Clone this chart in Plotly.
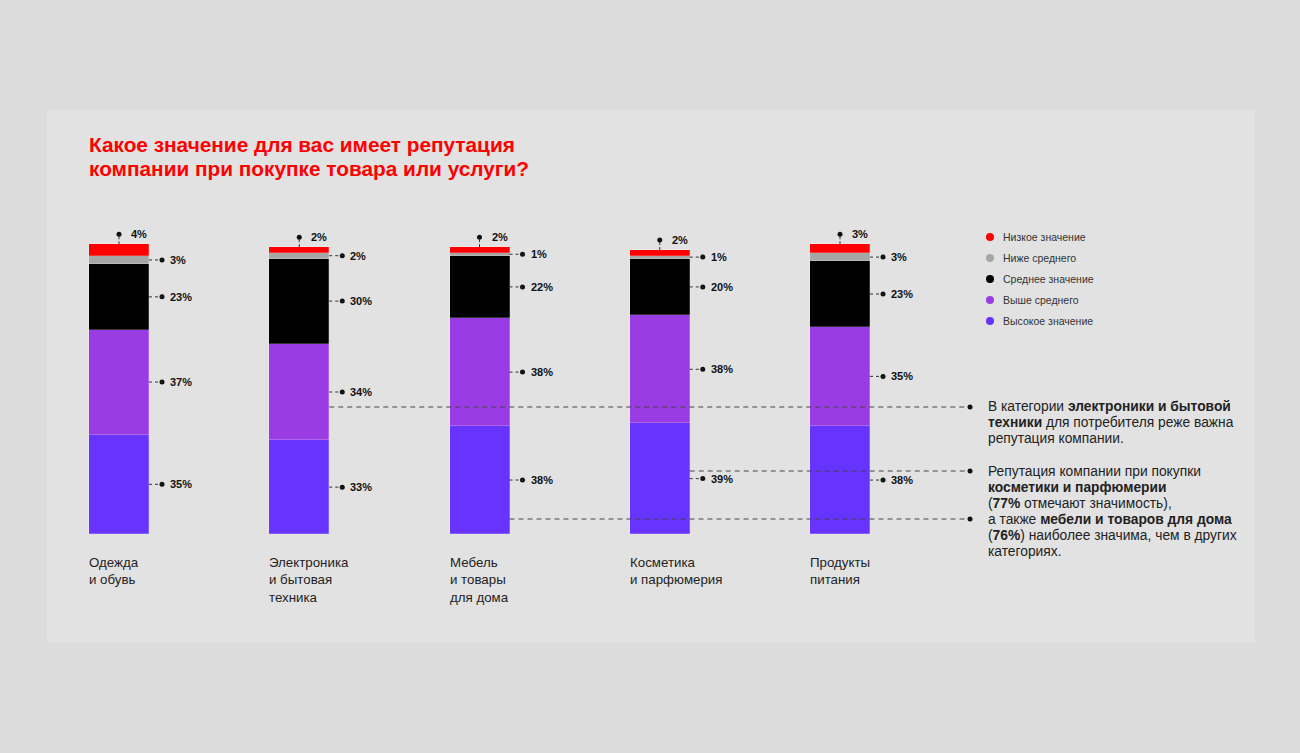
import plotly.graph_objects as go

# ---------------- data ----------------
categories = ["Одежда<br>и обувь", "Электроника<br>и бытовая<br>техника",
              "Мебель<br>и товары<br>для дома", "Косметика<br>и парфюмерия",
              "Продукты<br>питания"]
series_names = ["Высокое значение", "Выше среднего", "Среднее значение",
                "Ниже среднего", "Низкое значение"]
high = [35, 33, 38, 39, 38]
above_avg = [37, 34, 38, 38, 35]
average = [23, 30, 22, 20, 23]
below_avg = [3, 2, 1, 1, 3]
low = [4, 2, 2, 2, 3]
series_values = [high, above_avg, average, below_avg, low]
colors = ["#6633ff", "#9a3ce4", "#000000", "#a6a6a6", "#ff0000"]

title_lines = ["Какое значение для вас имеет репутация",
               "компании при покупке товара или услуги?"]
note1_lines = ["В категории <b>электроники и бытовой</b>",
               "<b>техники</b> для потребителя реже важна",
               "репутация компании."]
note2_lines = ["Репутация компании при покупки",
               "<b>косметики и парфюмерии</b>",
               "(<b>77%</b> отмечают значимость),",
               "а также <b>мебели и товаров для дома</b>",
               "(<b>76%</b>) наиболее значима, чем в других",
               "категориях."]

# ---------------- geometry helpers (layout only) ----------------
W, H = 1300, 753
X0, DX = 119, 180.25     # pixel of first bar centre, spacing
Y0, DY = 534, 2.84       # pixel of zero, pixels per percent
def px(p):
    return (p - X0) / DX
def py(p):
    return (Y0 - p) / DY

BAR_W = 60 / DX
xs = list(range(len(categories)))

fig = go.Figure()
for name, vals, col in zip(series_names, series_values, colors):
    fig.add_trace(go.Bar(x=xs, y=vals, name=name, width=BAR_W,
                         marker=dict(color=col, line=dict(color="rgba(255,255,255,0.35)", width=0.6)),
                         showlegend=False, hoverinfo="skip"))

shapes = []
annots = []
dot_x, dot_y = [], []

# background panel
shapes.append(dict(type="rect", xref="paper", yref="paper", x0=47 / W, x1=1255 / W,
                   y0=1 - 643 / H, y1=1 - 110 / H, fillcolor="#e2e2e2",
                   line=dict(width=0), layer="below"))

half = BAR_W / 2
for i in xs:
    cum = 0
    for k, vals in enumerate(series_values):
        v = vals[i]
        mid = cum + v / 2
        cum += v
        if k < 4:
            xd = i + (162 - 119) / DX
            shapes.append(dict(type="line", x0=i + half, x1=xd, y0=mid, y1=mid,
                               line=dict(color="#333333", width=1, dash="3px,3px")))
            dot_x.append(xd); dot_y.append(mid)
            annots.append(dict(x=i + (168 - 119) / DX, y=mid, text=f"<b>{v}%</b>",
                               xanchor="left", yanchor="middle", showarrow=False,
                               font=dict(size=11, color="#111111")))
        else:
            top = cum
            yd = top + 10 / DY
            shapes.append(dict(type="line", x0=i, x1=i, y0=top, y1=yd,
                               line=dict(color="#333333", width=1, dash="3px,2px")))
            dot_x.append(i); dot_y.append(yd)
            annots.append(dict(x=i + (129 - 119) / DX, y=yd, text=f"<b>{v}%</b>",
                               xanchor="left", yanchor="middle", showarrow=False,
                               font=dict(size=11, color="#111111")))
    # category label
    annots.append(dict(x=i - half - 2 / DX, y=py(553), text=categories[i], align="left",
                       xanchor="left", yanchor="top", showarrow=False,
                       font=dict(size=13.3, color="#222222")))

# callout lines to the right notes
callouts = [(1, 407), (3, 471), (2, 519)]
for bi, ypix in callouts:
    yv = py(ypix)
    shapes.append(dict(type="line", x0=bi + half, x1=px(966), y0=yv, y1=yv,
                       line=dict(color="#444444", width=1, dash="5px,4px")))
    dot_x.append(px(970)); dot_y.append(yv)

fig.add_trace(go.Scatter(x=dot_x, y=dot_y, mode="markers",
                         marker=dict(size=5, color="#111111"),
                         showlegend=False, hoverinfo="skip"))

for block, y_first in ((note1_lines, 406.5), (note2_lines, 471.5)):
    for j, line in enumerate(block):
        annots.append(dict(xref="paper", yref="paper", x=986 / W, y=1 - (y_first + 16 * j) / H,
                           text=line, xanchor="left", yanchor="middle", showarrow=False,
                           font=dict(size=13.8, color="#222222")))

# legend (custom)
leg_order = [4, 3, 2, 1, 0]
for j, k in enumerate(leg_order):
    yp = 237 + 21 * j
    shapes.append(dict(type="circle", xref="paper", yref="paper",
                       x0=986 / W, x1=994 / W, y0=1 - (yp + 4) / H, y1=1 - (yp - 4) / H,
                       fillcolor=colors[k], line=dict(width=0)))
    annots.append(dict(xref="paper", yref="paper", x=1001 / W, y=1 - yp / H,
                       text=series_names[k], xanchor="left", yanchor="middle",
                       showarrow=False, font=dict(size=10.5, color="#333333")))

# title
for j, line in enumerate(title_lines):
    annots.append(dict(xref="paper", yref="paper", x=87 / W, y=1 - (144.5 + 23.5 * j) / H,
                       text=f"<b>{line}</b>", xanchor="left", yanchor="middle",
                       showarrow=False, font=dict(size=20.8, color="#ff0000")))

fig.update_layout(
    width=W, height=H, margin=dict(l=0, r=0, t=0, b=0),
    barmode="stack", bargap=0,
    paper_bgcolor="#dcdcdc", plot_bgcolor="rgba(0,0,0,0)",
    font=dict(family="Liberation Sans, Arial, sans-serif"),
    xaxis=dict(range=[px(0), px(W)], visible=False, fixedrange=True),
    yaxis=dict(range=[py(H), py(0)], visible=False, fixedrange=True),
    shapes=shapes, annotations=annots, showlegend=False,
)

fig.write_html("out.html", config={"displayModeBar": False},
               post_script="document.body.style.margin='0';")
